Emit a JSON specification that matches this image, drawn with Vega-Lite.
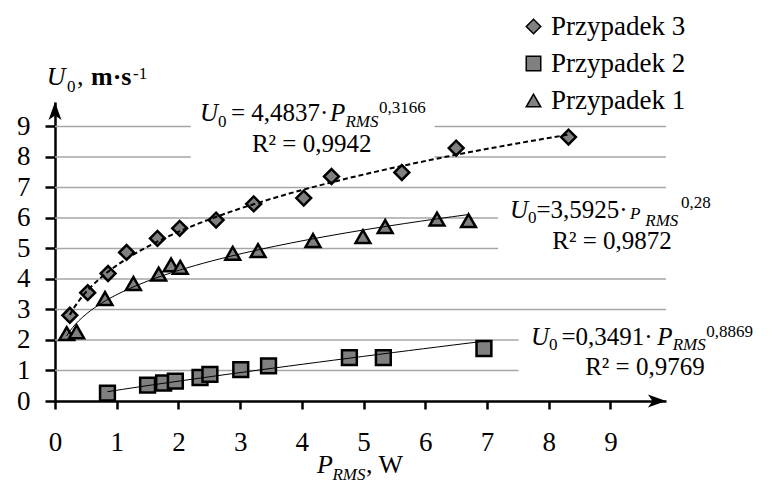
{
  "$schema": "https://vega.github.io/schema/vega-lite/v6.json",
  "width": 611,
  "height": 299,
  "autosize": {"type": "none"},
  "padding": {"left": 55, "top": 102, "right": 106, "bottom": 89},
  "background": "white",
  "config": {"view": {"stroke": null}, "font": "Liberation Serif"},
  "datasets": {
    "points": [
      {"series": "Przypadek 3", "x": 0.24, "y": 2.81},
      {"series": "Przypadek 3", "x": 0.53, "y": 3.55},
      {"series": "Przypadek 3", "x": 0.86, "y": 4.18},
      {"series": "Przypadek 3", "x": 1.16, "y": 4.87},
      {"series": "Przypadek 3", "x": 1.66, "y": 5.33},
      {"series": "Przypadek 3", "x": 2.02, "y": 5.66},
      {"series": "Przypadek 3", "x": 2.61, "y": 5.93},
      {"series": "Przypadek 3", "x": 3.22, "y": 6.46},
      {"series": "Przypadek 3", "x": 4.03, "y": 6.65},
      {"series": "Przypadek 3", "x": 4.48, "y": 7.36},
      {"series": "Przypadek 3", "x": 5.62, "y": 7.49},
      {"series": "Przypadek 3", "x": 6.5, "y": 8.29},
      {"series": "Przypadek 3", "x": 8.32, "y": 8.65},
      {"series": "Przypadek 2", "x": 0.85, "y": 0.26},
      {"series": "Przypadek 2", "x": 1.5, "y": 0.52},
      {"series": "Przypadek 2", "x": 1.76, "y": 0.59},
      {"series": "Przypadek 2", "x": 1.95, "y": 0.65},
      {"series": "Przypadek 2", "x": 2.35, "y": 0.77},
      {"series": "Przypadek 2", "x": 2.51, "y": 0.87},
      {"series": "Przypadek 2", "x": 3.01, "y": 1.03},
      {"series": "Przypadek 2", "x": 3.46, "y": 1.15},
      {"series": "Przypadek 2", "x": 4.77, "y": 1.42},
      {"series": "Przypadek 2", "x": 5.32, "y": 1.42},
      {"series": "Przypadek 2", "x": 6.95, "y": 1.72},
      {"series": "Przypadek 1", "x": 0.19, "y": 2.21},
      {"series": "Przypadek 1", "x": 0.35, "y": 2.27},
      {"series": "Przypadek 1", "x": 0.81, "y": 3.36},
      {"series": "Przypadek 1", "x": 1.27, "y": 3.85},
      {"series": "Przypadek 1", "x": 1.68, "y": 4.16},
      {"series": "Przypadek 1", "x": 1.88, "y": 4.46},
      {"series": "Przypadek 1", "x": 2.03, "y": 4.38},
      {"series": "Przypadek 1", "x": 2.88, "y": 4.84},
      {"series": "Przypadek 1", "x": 3.29, "y": 4.93},
      {"series": "Przypadek 1", "x": 4.18, "y": 5.26},
      {"series": "Przypadek 1", "x": 4.99, "y": 5.39},
      {"series": "Przypadek 1", "x": 5.35, "y": 5.72},
      {"series": "Przypadek 1", "x": 6.19, "y": 5.96},
      {"series": "Przypadek 1", "x": 6.7, "y": 5.91}
    ],
    "grid": [
      {"y": 9, "x": 0, "xe": 2.2}, {"y": 9, "x": 6.15, "xe": 9.9},
      {"y": 8, "x": 0, "xe": 2.2}, {"y": 8, "x": 6.15, "xe": 9.9},
      {"y": 7, "x": 0, "xe": 9.9},
      {"y": 6, "x": 0, "xe": 7.18},
      {"y": 5, "x": 0, "xe": 7.18},
      {"y": 4, "x": 0, "xe": 9.9},
      {"y": 3, "x": 0, "xe": 9.9},
      {"y": 2, "x": 0, "xe": 7.51},
      {"y": 1, "x": 0, "xe": 7.51}
    ],
    "itMain": [
      {"t": "U", "x": 2.349, "y": 9.177},
      {"t": "P", "x": 4.456, "y": 9.177},
      {"t": "U", "x": 7.373, "y": 5.982},
      {"t": "U", "x": 7.712, "y": 1.835},
      {"t": "P", "x": 9.757, "y": 1.835}
    ],
    "upMain": [
      {"t": "= 4,4837·", "x": 2.852, "y": 9.177},
      {"t": "=3,5925·", "x": 7.801, "y": 5.982},
      {"t": "=0,3491·", "x": 8.206, "y": 1.835}
    ],
    "upCenter": [
      {"t": "R² = 0,9942", "x": 4.159, "y": 8.171},
      {"t": "R² = 0,9872", "x": 9.025, "y": 4.982},
      {"t": "R² = 0,9769", "x": 9.559, "y": 0.852}
    ],
    "itTitle": [
      {"t": "U", "x": -0.134, "y": 10.357},
      {"t": "P", "x": 4.245, "y": -2.37}
    ],
    "upTitle": [
      {"t": ",", "x": 0.356, "y": 10.357},
      {"t": ", W", "x": 5.039, "y": -2.37}
    ],
    "boldTitle": [
      {"t": "m·s", "x": 0.583, "y": 10.357}
    ],
    "subup": [
      {"t": "0", "x": 2.641, "y": 8.971},
      {"t": "0", "x": 7.664, "y": 5.824},
      {"t": "0", "x": 8.004, "y": 1.672},
      {"t": "0", "x": 0.194, "y": 10.138}
    ],
    "subit": [
      {"t": "RMS", "x": 4.706, "y": 8.971},
      {"t": "P", "x": 9.316, "y": 5.955},
      {"t": "RMS", "x": 9.565, "y": 5.736},
      {"t": "RMS", "x": 10.008, "y": 1.672},
      {"t": "RMS", "x": 4.496, "y": -2.589}
    ],
    "sup": [
      {"t": "0,3166", "x": 5.249, "y": 9.43},
      {"t": "0,28", "x": 10.143, "y": 6.316},
      {"t": "0,8869", "x": 10.551, "y": 2.088},
      {"t": "-1", "x": 1.264, "y": 10.554}
    ],
    "arrowY": [{"x": 0, "y": 9.8}],
    "arrowX": [{"x": 9.9, "y": 0}]
  },
  "encoding": {
    "x": {
      "field": "x", "type": "quantitative",
      "scale": {"domain": [0, 9.9], "nice": false, "zero": false},
      "axis": {
        "values": [0, 1, 2, 3, 4, 5, 6, 7, 8, 9], "format": "d", "title": null, "grid": false,
        "domainColor": "black", "domainWidth": 2.5, "tickColor": "black", "tickWidth": 2.5, "tickSize": 8,
        "labelFont": "Liberation Serif", "labelFontSize": 27, "labelColor": "black", "labelPadding": 20,
        "labelFlush": false, "labelOverlap": false
      }
    },
    "y": {
      "field": "y", "type": "quantitative",
      "scale": {"domain": [0, 9.8], "nice": false, "zero": false},
      "axis": {
        "values": [0, 1, 2, 3, 4, 5, 6, 7, 8, 9], "format": "d", "title": null, "grid": false,
        "domainColor": "black", "domainWidth": 2.5, "tickColor": "black", "tickWidth": 2.5, "tickSize": 10,
        "labelFont": "Liberation Serif", "labelFontSize": 27, "labelColor": "black", "labelPadding": 15,
        "labelFlush": false, "labelOverlap": false
      }
    }
  },
  "layer": [
    {
      "data": {"name": "grid"},
      "mark": {"type": "rule", "stroke": "#a6a6a6", "strokeWidth": 1.5},
      "encoding": {"x2": {"field": "xe"}}
    },
    {
      "data": {"name": "points"},
      "mark": {"type": "point", "filled": true, "fill": "#808080", "stroke": "black", "strokeWidth": 2.5, "opacity": 1, "size": 220},
      "encoding": {
        "shape": {
          "field": "series", "type": "nominal",
          "scale": {"domain": ["Przypadek 3", "Przypadek 2", "Przypadek 1"], "range": ["diamond", "square", "triangle-up"]},
          "legend": {
            "title": null, "orient": "none", "legendX": 465, "legendY": -89, "padding": 0,
            "labelFont": "Liberation Serif", "labelFontSize": 27, "labelColor": "black", "labelOffset": 4,
            "symbolSize": 210, "rowPadding": 9,
            "encode": {"symbols": {"update": {"fill": {"value": "#808080"}, "stroke": {"value": "black"}, "strokeWidth": {"value": 2.5}, "opacity": {"value": 1}}}}
          }
        }
      }
    },
    {
      "data": {"name": "points"},
      "transform": [
        {"filter": "datum.series === 'Przypadek 3'"},
        {"regression": "y", "on": "x", "method": "pow"}
      ],
      "mark": {"type": "line", "color": "black", "strokeWidth": 2, "strokeDash": [5, 3]},
      "encoding": {}
    },
    {
      "data": {"name": "points"},
      "transform": [
        {"filter": "datum.series !== 'Przypadek 3'"},
        {"regression": "y", "on": "x", "method": "pow", "groupby": ["series"]}
      ],
      "mark": {"type": "line", "color": "black", "strokeWidth": 1},
      "encoding": {"detail": {"field": "series", "type": "nominal"}}
    },
    {
      "data": {"name": "itMain"},
      "mark": {"type": "text", "fontStyle": "italic", "fontSize": 25, "align": "left", "baseline": "alphabetic", "color": "black"},
      "encoding": {"text": {"field": "t"}}
    },
    {
      "data": {"name": "upMain"},
      "mark": {"type": "text", "fontSize": 25, "align": "left", "baseline": "alphabetic", "color": "black"},
      "encoding": {"text": {"field": "t"}}
    },
    {
      "data": {"name": "upCenter"},
      "mark": {"type": "text", "fontSize": 25, "align": "center", "baseline": "alphabetic", "color": "black"},
      "encoding": {"text": {"field": "t"}}
    },
    {
      "data": {"name": "itTitle"},
      "mark": {"type": "text", "fontStyle": "italic", "fontSize": 26, "align": "left", "baseline": "alphabetic", "color": "black"},
      "encoding": {"text": {"field": "t"}}
    },
    {
      "data": {"name": "upTitle"},
      "mark": {"type": "text", "fontSize": 26, "align": "left", "baseline": "alphabetic", "color": "black"},
      "encoding": {"text": {"field": "t"}}
    },
    {
      "data": {"name": "boldTitle"},
      "mark": {"type": "text", "fontWeight": "bold", "fontSize": 26, "align": "left", "baseline": "alphabetic", "color": "black"},
      "encoding": {"text": {"field": "t"}}
    },
    {
      "data": {"name": "subup"},
      "mark": {"type": "text", "fontSize": 17, "align": "left", "baseline": "alphabetic", "color": "black"},
      "encoding": {"text": {"field": "t"}}
    },
    {
      "data": {"name": "subit"},
      "mark": {"type": "text", "fontStyle": "italic", "fontSize": 17, "align": "left", "baseline": "alphabetic", "color": "black"},
      "encoding": {"text": {"field": "t"}}
    },
    {
      "data": {"name": "sup"},
      "mark": {"type": "text", "fontSize": 17, "align": "left", "baseline": "alphabetic", "color": "black"},
      "encoding": {"text": {"field": "t"}}
    },
    {
      "data": {"name": "arrowY"},
      "mark": {"type": "point", "shape": "M0,0 L0.5,1.4 L0,1.05 L-0.5,1.4 Z", "size": 665, "filled": true, "color": "black", "opacity": 1}
    },
    {
      "data": {"name": "arrowX"},
      "mark": {"type": "point", "shape": "M0,0 L-1.4,-0.5 L-1.05,0 L-1.4,0.5 Z", "size": 665, "filled": true, "color": "black", "opacity": 1}
    }
  ]
}
